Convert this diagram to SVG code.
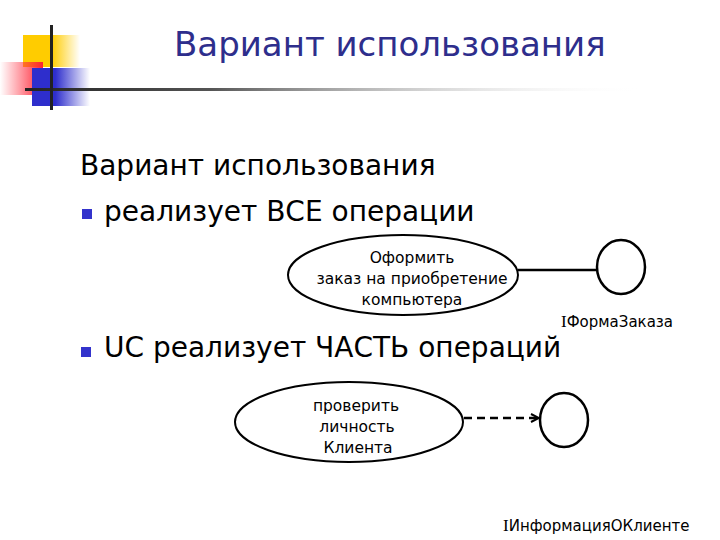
<svg xmlns="http://www.w3.org/2000/svg" width="720" height="540" viewBox="0 0 720 540">
<defs>
<linearGradient id="gY" x1="0" x2="1" y1="0" y2="0"><stop offset="0" stop-color="#FFCC00"/><stop offset="0.5" stop-color="#FFCC00"/><stop offset="1" stop-color="#FFCC00" stop-opacity="0"/></linearGradient>
<linearGradient id="gR" x1="0" x2="1" y1="0" y2="0"><stop offset="0" stop-color="#FF3344" stop-opacity="0"/><stop offset="1" stop-color="#FF2233"/></linearGradient>
<linearGradient id="gB" x1="0" x2="1" y1="0" y2="0"><stop offset="0" stop-color="#2E2ECC"/><stop offset="0.4" stop-color="#2E2ECC"/><stop offset="1" stop-color="#2E2ECC" stop-opacity="0"/></linearGradient>
<linearGradient id="gL" x1="0" x2="1" y1="0" y2="0"><stop offset="0" stop-color="#222"/><stop offset="0.3" stop-color="#555"/><stop offset="1" stop-color="#fff" stop-opacity="0"/></linearGradient>
<marker id="open" viewBox="0 0 10 10" refX="9" refY="5" markerWidth="10" markerHeight="10" markerUnits="userSpaceOnUse" orient="auto"><path d="M1,1 L9,5 L1,9" fill="none" stroke="#000" stroke-width="2"/></marker>
<style>
.sans{font-family:"DejaVu Sans","Noto Sans",sans-serif;}
.title{font-size:34px;fill:#2E2E8C;}
.body{font-size:28px;fill:#000;}
.lbl{font-size:15.5px;fill:#000;text-anchor:middle;}
.iface{font-size:15px;fill:#000;}
.serif{font-family:"Liberation Serif",serif;font-size:17px;}
.uc{fill:#fff;stroke:#000;stroke-width:2;}
.ic{fill:#fff;stroke:#000;stroke-width:2.5;}
.bul{fill:#3333CC;}
.conn{stroke:#000;stroke-width:2.5;fill:none;}
</style>
</defs>
<rect width="720" height="540" fill="#fff"/>
<g id="logo">
<rect x="23" y="35" width="57" height="32" fill="url(#gY)"/>
<rect x="0" y="62" width="43" height="33" fill="url(#gR)"/>
<rect x="32" y="68" width="58" height="38" fill="url(#gB)"/>
<rect x="25" y="88" width="620" height="3" fill="url(#gL)"/>
<rect x="50" y="25" width="3" height="85" fill="#222"/>
</g>
<text class="sans title" x="174" y="56">Вариант использования</text>
<g id="bullets">
<text class="sans body" x="80" y="175">Вариант использования</text>
<rect class="bul" x="82" y="209" width="10" height="10"/>
<text class="sans body" x="104" y="221">реализует ВСЕ операции</text>
<rect class="bul" x="81" y="347" width="10" height="10"/>
<text class="sans body" x="104" y="357">UC реализует ЧАСТЬ операций</text>
</g>
<g id="uc1">
<ellipse class="uc" cx="403" cy="275" rx="115" ry="40"/>
<text class="sans lbl" x="412" y="263">Оформить</text>
<text class="sans lbl" x="412" y="284">заказ на приобретение</text>
<text class="sans lbl" x="412" y="305">компьютера</text>
</g>
<g id="if1">
<ellipse class="ic" cx="621" cy="267" rx="24" ry="27"/>
<text class="sans iface" x="561" y="327"><tspan class="serif">I</tspan>ФормаЗаказа</text>
</g>
<g id="uc2">
<ellipse class="uc" cx="349" cy="422" rx="114" ry="40"/>
<text class="sans lbl" x="356" y="411">проверить</text>
<text class="sans lbl" x="357" y="432">личность</text>
<text class="sans lbl" x="358" y="453">Клиента</text>
</g>
<g id="if2">
<ellipse class="ic" cx="564" cy="420" rx="24" ry="27"/>
<text class="sans iface" x="503" y="531"><tspan class="serif">I</tspan>ИнформацияОКлиенте</text>
</g>
<g id="connectors">
<line class="conn" x1="518" y1="270" x2="597" y2="270"/>
<line class="conn" x1="464" y1="418" x2="539" y2="418" stroke-dasharray="8,5" marker-end="url(#open)"/>
</g>
</svg>
